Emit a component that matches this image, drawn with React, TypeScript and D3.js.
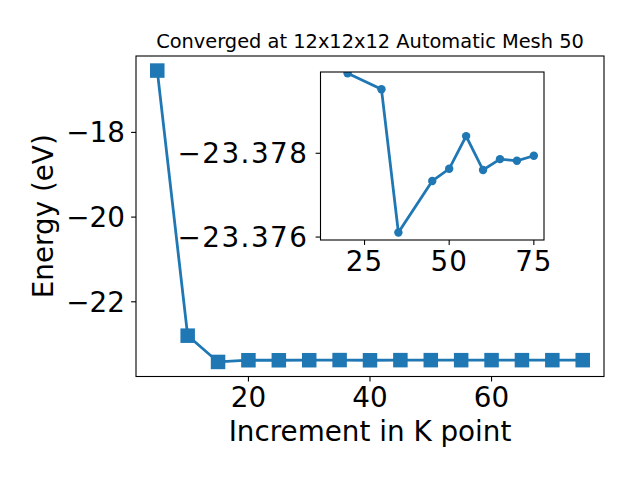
import React from "react";
import * as d3 from "d3";

const kPoints = [5, 10, 15, 20, 25, 30, 35, 40, 45, 50, 55, 60, 65, 70, 75];
const energies = [-16.54, -22.8, -23.42, -23.3799, -23.3806, -23.3795, -23.3761, -23.3805, -23.3773, -23.3776, -23.3784, -23.3776, -23.3779, -23.3778, -23.3779];

const insetK = [20, 30, 35, 45, 50, 55, 60, 65, 70, 75];
const insetE = [-23.37991, -23.37953, -23.37611, -23.37734, -23.37763, -23.37841, -23.3776, -23.37786, -23.37782, -23.37794];

const mainXTicks = [20, 40, 60];
const mainYTicks = [-18, -20, -22];
const insetXTicks = [25, 50, 75];
const insetYTicks = [-23.378, -23.376];

const titleText = "Converged at 12x12x12 Automatic Mesh 50";
const xLabel = "Increment in K point";
const yLabel = "Energy (eV)";

const COLOR = "#1f77b4";
const FONT = "DejaVu Sans, sans-serif";
const minus = (s: string) => s.replace("-", "\u2212");

export default function App() {
  const W = 640, H = 480;
  const m = { left: 136, right: 604, top: 56, bottom: 376.5 };
  const xe = d3.extent(kPoints) as [number, number];
  const ye = d3.extent(energies) as [number, number];
  const xp = (xe[1] - xe[0]) * 0.05;
  const yp = (ye[1] - ye[0]) * 0.05;
  const x = d3.scaleLinear().domain([xe[0] - xp, xe[1] + xp]).range([m.left, m.right]);
  const y = d3.scaleLinear().domain([ye[0] - yp, ye[1] + yp]).range([m.bottom, m.top]);
  const line = d3.line<number>().x((_, i) => x(kPoints[i])).y((d) => y(d));

  const ins = { left: 320.5, right: 544, top: 72, bottom: 240 };
  const ix = d3.scaleLinear().domain([12, 78]).range([ins.left, ins.right]);
  const iy = d3.scaleLinear().domain([-23.37994, -23.37593]).range([ins.top, ins.bottom]);
  const iline = d3.line<number>().x((_, i) => ix(insetK[i])).y((d) => iy(d));

  const fs = 27.8;
  const ms = 14.5;

  return (
    <svg width={W} height={H} style={{ display: "block", position: "absolute", left: 0, top: 0, background: "#fff" }} fontFamily={FONT}>
      <rect x={0} y={0} width={W} height={H} fill="#fff" />
      <text x={(m.left + m.right) / 2} y={47.5} textAnchor="middle" fontSize={19.4} fill="#000">{titleText}</text>
      <path d={line(energies) ?? ""} fill="none" stroke={COLOR} strokeWidth={2.78} />
      {energies.map((e, i) => (
        <rect key={i} x={x(kPoints[i]) - ms / 2} y={y(e) - ms / 2} width={ms} height={ms} fill={COLOR} />
      ))}
      <rect x={m.left} y={m.top} width={m.right - m.left} height={m.bottom - m.top} fill="none" stroke="#000" strokeWidth={1.1} />
      {mainXTicks.map((t) => (
        <g key={t}>
          <line x1={x(t)} x2={x(t)} y1={m.bottom} y2={m.bottom + 4.9} stroke="#000" strokeWidth={1.1} />
          <text x={x(t)} y={406.5} textAnchor="middle" fontSize={fs}>{t}</text>
        </g>
      ))}
      {mainYTicks.map((t) => (
        <g key={t}>
          <line x1={m.left - 4.9} x2={m.left} y1={y(t)} y2={y(t)} stroke="#000" strokeWidth={1.1} />
          <text x={m.left - 11} y={y(t)} dy="0.36em" textAnchor="end" fontSize={fs}>{minus(String(t))}</text>
        </g>
      ))}
      <text x={(m.left + m.right) / 2} y={440.5} textAnchor="middle" fontSize={fs}>{xLabel}</text>
      <text transform={`translate(53,${(m.top + m.bottom) / 2}) rotate(-90)`} textAnchor="middle" fontSize={fs}>{yLabel}</text>

      <rect x={ins.left} y={ins.top} width={ins.right - ins.left} height={ins.bottom - ins.top} fill="#fff" />
      <clipPath id="insclip">
        <rect x={ins.left} y={ins.top} width={ins.right - ins.left} height={ins.bottom - ins.top} />
      </clipPath>
      <g clipPath="url(#insclip)">
        <path d={iline(insetE) ?? ""} fill="none" stroke={COLOR} strokeWidth={2.78} />
        {insetE.map((e, i) => (
          <circle key={i} cx={ix(insetK[i])} cy={iy(e)} r={4.2} fill={COLOR} />
        ))}
      </g>
      <rect x={ins.left} y={ins.top} width={ins.right - ins.left} height={ins.bottom - ins.top} fill="none" stroke="#000" strokeWidth={1.1} />
      {insetXTicks.map((t) => (
        <g key={t}>
          <line x1={ix(t)} x2={ix(t)} y1={ins.bottom} y2={ins.bottom + 4.9} stroke="#000" strokeWidth={1.1} />
          <text x={ix(t)} y={271} textAnchor="middle" fontSize={fs} letterSpacing={1}>{t}</text>
        </g>
      ))}
      {insetYTicks.map((t) => (
        <g key={t}>
          <line x1={ins.left - 4.9} x2={ins.left} y1={iy(t)} y2={iy(t)} stroke="#000" strokeWidth={1.1} />
          <text x={ins.left - 12} y={iy(t)} dy="0.36em" textAnchor="end" fontSize={fs} letterSpacing={1.5}>{minus(t.toFixed(3))}</text>
        </g>
      ))}
    </svg>
  );
}
